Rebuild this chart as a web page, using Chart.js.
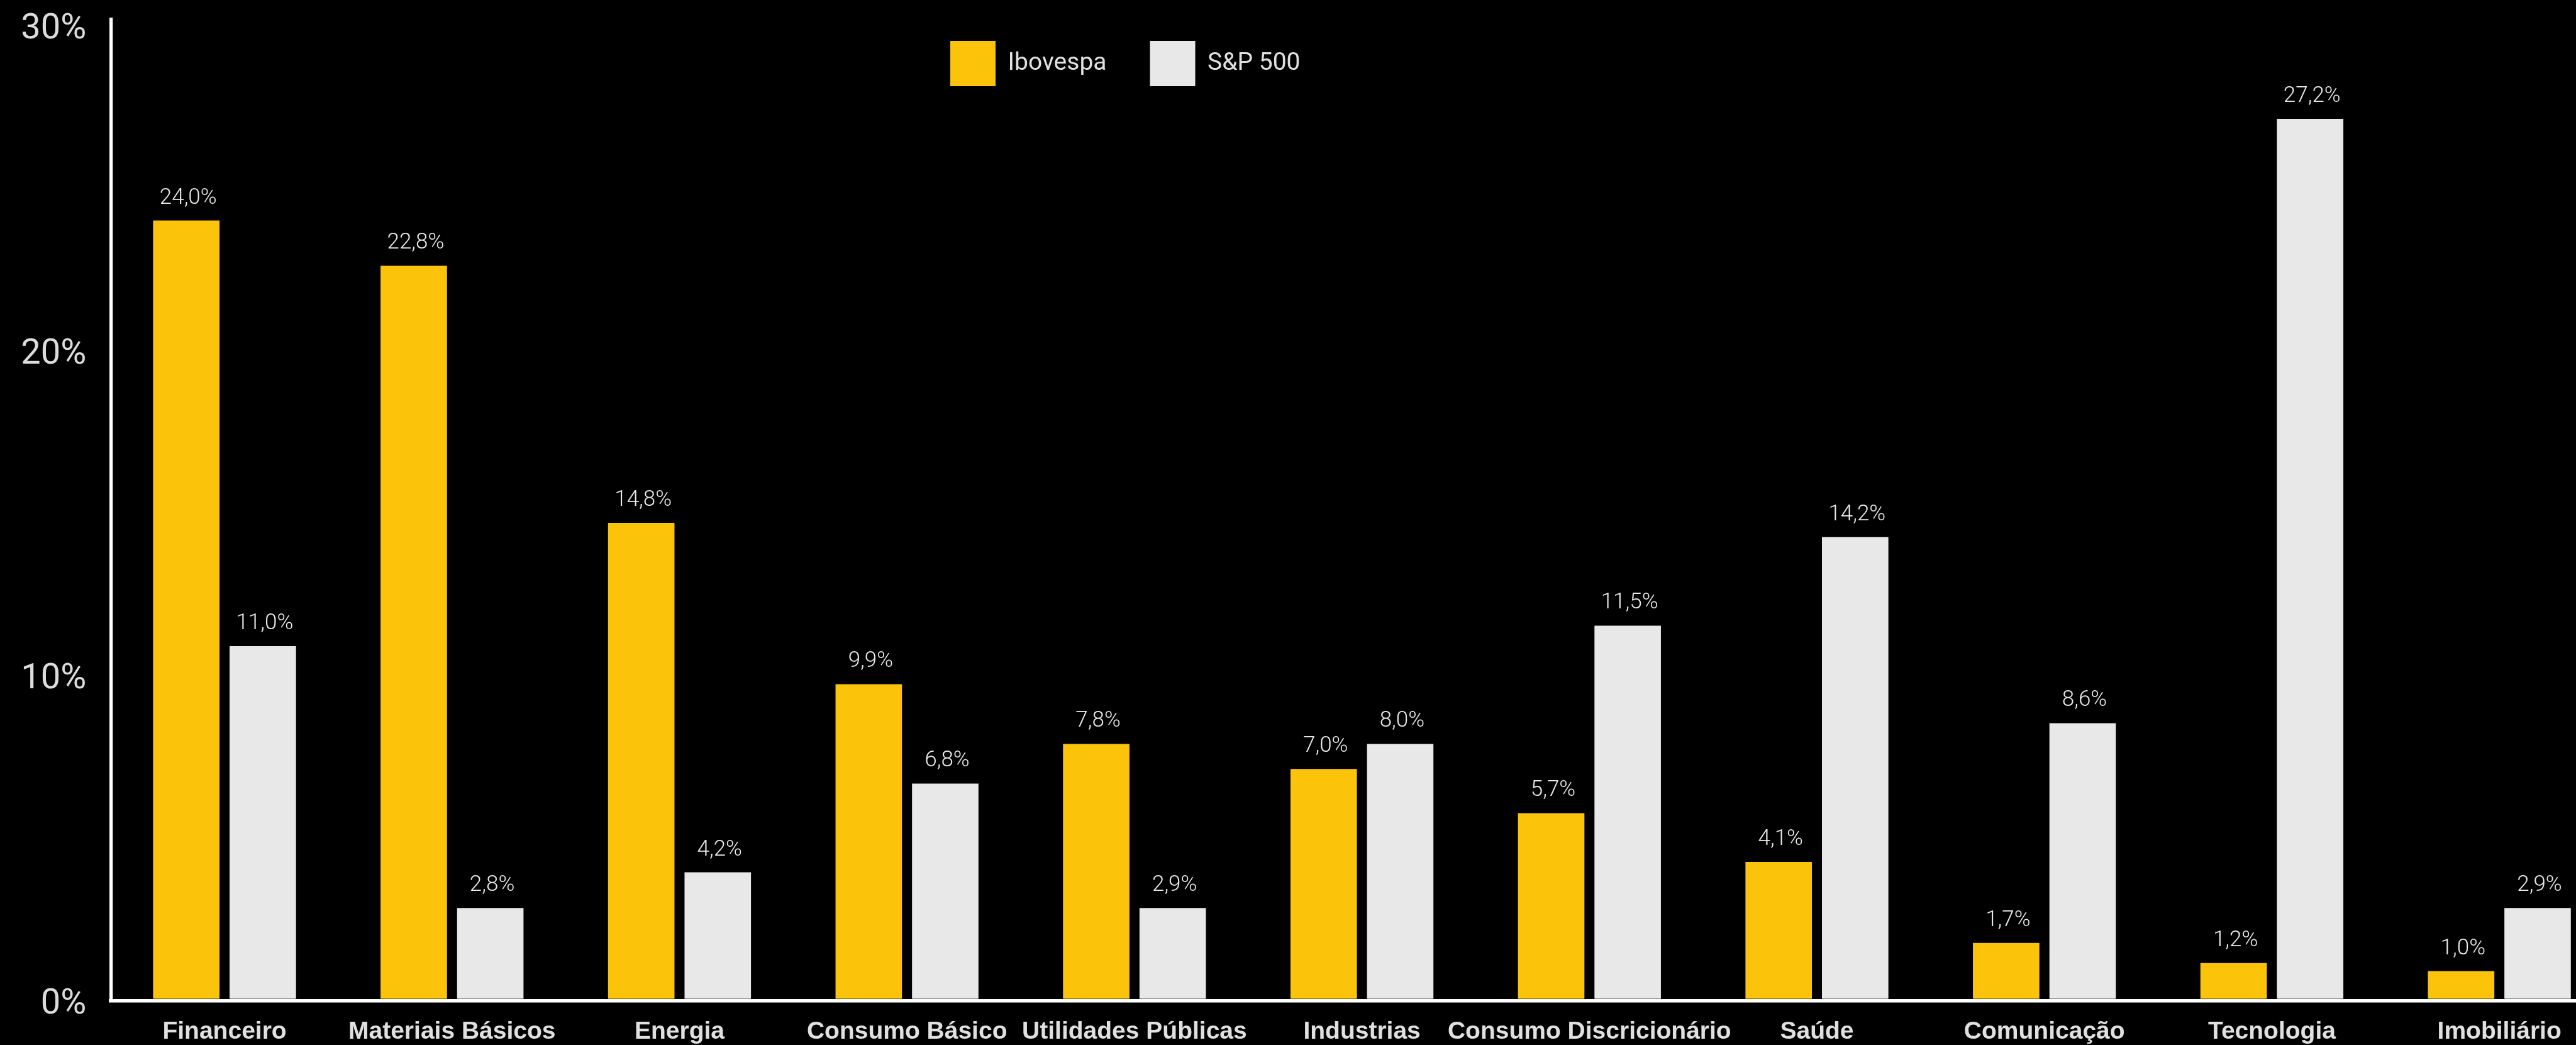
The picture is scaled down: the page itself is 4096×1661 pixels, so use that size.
<!DOCTYPE html>
<html>
<head>
<meta charset="utf-8">
<script src="https://cdn.jsdelivr.net/npm/chart.js@4.4.1/dist/chart.umd.min.js"></script>
<style>
  html, body { margin: 0; padding: 0; background: #000; overflow: hidden; width: 4096px; height: 1661px; }
  #wrap { position: absolute; left: 0; top: 0; width: 4160px; height: 1661px; }
</style>
</head>
<body>
<div id="wrap"><canvas id="c"></canvas></div>
<script>
// ---- data ----
const categories = ['Financeiro', 'Materiais Básicos', 'Energia', 'Consumo Básico', 'Utilidades Públicas',
  'Industrias', 'Consumo Discricionário', 'Saúde', 'Comunicação', 'Tecnologia', 'Imobiliário'];
const seriesNames = ['Ibovespa', 'S&P 500'];
// bar heights as drawn in the picture (%)
const ibovespa = [23.94, 22.55, 14.64, 9.68, 7.84, 7.07, 5.71, 4.21, 1.72, 1.10, 0.85];
const sp500    = [10.85, 2.79, 3.89, 6.62, 2.79, 7.84, 11.48, 14.20, 8.48, 27.07, 2.79];
// printed value labels
const ibovespaLabels = ['24,0%', '22,8%', '14,8%', '9,9%', '7,8%', '7,0%', '5,7%', '4,1%', '1,7%', '1,2%', '1,0%'];
const sp500Labels    = ['11,0%', '2,8%', '4,2%', '6,8%', '2,9%', '8,0%', '11,5%', '14,2%', '8,6%', '27,2%', '2,9%'];
const yTicks = [0, 10, 20, 30];

// ---- styles ----
const YELLOW = '#FCC30B';
const GRAY = '#E8E8E8';

const legendPad = 69;
// keep the legend from reserving space, then place it over the plot area
const legendShift = {
  id: 'legendShift',
  beforeLayout(chart) {
    const lg = chart.legend;
    if (lg && !lg._patched) {
      const fit = lg.fit.bind(lg);
      lg.fit = function () { fit(); this.height = 0; };
      lg._patched = true;
    }
  },
  afterLayout(chart) {
    const lg = chart.legend;
    if (!lg) return;
    lg.left = 1511 - legendPad;
    lg.top = 65 - legendPad;
    lg.right = lg.left + 1200;
    lg.bottom = lg.top + 260;
    lg.width = 1200;
  }
};

const valueLabels = {
  id: 'valueLabels',
  afterDatasetsDraw(chart) {
    const ctx = chart.ctx;
    ctx.save();
    ctx.font = '300 35px Roboto';
    ctx.fillStyle = '#ebebeb';
    ctx.textAlign = 'center';
    ctx.textBaseline = 'alphabetic';
    chart.data.datasets.forEach((ds, di) => {
      const meta = chart.getDatasetMeta(di);
      meta.data.forEach((bar, i) => {
        ctx.fillText(ds.valueLabels[i], bar.x + 3, bar.y - 27);
      });
    });
    ctx.restore();
  }
};

new Chart(document.getElementById('c'), {
  type: 'bar',
  data: {
    labels: categories,
    datasets: [
      { label: seriesNames[0], data: ibovespa, valueLabels: ibovespaLabels, backgroundColor: YELLOW, borderWidth: 0,
        barPercentage: 0.8686, categoryPercentage: 0.6725 },
      { label: seriesNames[1], data: sp500, valueLabels: sp500Labels, backgroundColor: GRAY, borderWidth: 0,
        barPercentage: 0.8686, categoryPercentage: 0.6725 }
    ]
  },
  options: {
    responsive: true,
    maintainAspectRatio: false,
    animation: false,
    devicePixelRatio: 1,
    layout: { padding: { left: 0, top: 31.07, right: 5, bottom: 0 } },
    plugins: {
      tooltip: { enabled: false },
      legend: {
        position: 'top',
        align: 'start',
        labels: {
          boxWidth: 72, boxHeight: 72, padding: legendPad,
          color: '#e0e0e0',
          font: { family: 'Roboto', size: 39, weight: 'normal' }
        }
      }
    },
    scales: {
      x: {
        grid: { display: false, drawTicks: false },
        border: { display: true, color: '#ffffff', width: 5.5 },
        ticks: {
          color: '#e0e0e0',
          font: { family: 'Liberation Sans', size: 39, weight: 'bold', lineHeight: 1 },
          padding: 30,
          autoSkip: false, maxRotation: 0, minRotation: 0
        },
        afterFit(scale) { scale.height = 70.75; scale.paddingLeft = 0; scale.paddingRight = 0; }
      },
      y: {
        min: -0.0532,
        max: 30.125,
        grid: { display: false, drawTicks: true, tickLength: 36 },
        border: { display: true, color: '#ffffff', width: 5.3 },
        afterBuildTicks(scale) { scale.ticks = yTicks.map(v => ({ value: v })); },
        ticks: {
          color: '#dcdcdc',
          font: { family: 'Roboto', size: 56, lineHeight: 1 },
          padding: 3,
          labelOffset: 9.5,
          callback: (v) => v + '%'
        },
        afterFit(scale) { scale.width = 176.2; scale.paddingTop = 0; scale.paddingBottom = 0; }
      }
    }
  },
  plugins: [legendShift, valueLabels]
});
</script>
</body>
</html>
